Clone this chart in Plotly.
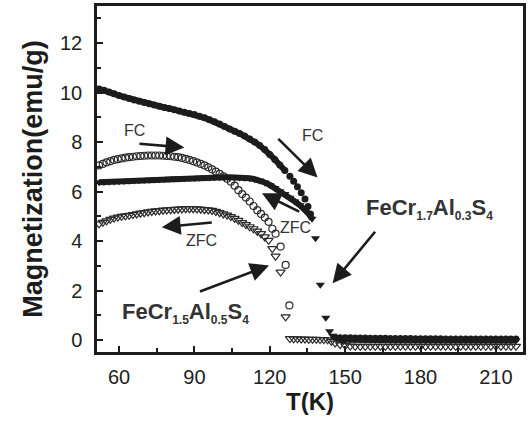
import plotly.graph_objects as go

# ---------------- data ----------------
# FeCr1.7Al0.3S4, FC (filled circles)
fc17_T = [52, 54, 56, 58, 60, 62, 64, 66, 68, 70, 72, 74, 76, 78, 80, 82, 84, 86, 88, 90,
          92, 94, 96, 98, 100, 102, 104, 106, 108, 110, 112, 114, 116, 118, 120, 122, 124, 126,
          128, 129.5, 131, 132.5, 134, 135.2, 136.2,
          146, 148, 150, 152, 154, 156, 158, 160, 162, 164, 166, 168, 170, 172, 174, 176, 178, 180,
          182, 184, 186, 188, 190, 192, 194, 196, 198, 200, 202, 204, 206, 208, 210, 212, 214, 216, 218]
fc17_M = [10.15, 10.1, 10.03, 9.95, 9.88, 9.82, 9.76, 9.7, 9.65, 9.6, 9.55, 9.5, 9.45, 9.4, 9.36, 9.31, 9.26, 9.21, 9.16, 9.12,
          9.05, 8.98, 8.9, 8.82, 8.73, 8.63, 8.53, 8.44, 8.35, 8.25, 8.13, 8.0, 7.86, 7.7, 7.5, 7.3, 7.08, 6.85,
          6.62, 6.42, 6.2, 5.95, 5.7, 5.4, 5.1,
          0.12, 0.1, 0.1, 0.1, 0.09, 0.09, 0.09, 0.08, 0.08, 0.08, 0.08, 0.07, 0.07, 0.07, 0.07, 0.07, 0.06, 0.06,
          0.06, 0.06, 0.06, 0.06, 0.05, 0.05, 0.05, 0.05, 0.05, 0.05, 0.05, 0.05, 0.05, 0.05, 0.05, 0.05, 0.05, 0.05, 0.05]
FC17_DENSE = 38  # number of leading points that form the continuous low-T band

# FeCr1.7Al0.3S4, ZFC (filled down-triangles)
zfc17_T = [52, 54, 56, 58, 60, 62, 64, 66, 68, 70, 72, 74, 76, 78, 80, 82, 84, 86, 88, 90,
           92, 94, 96, 98, 100, 102, 104, 106, 108, 110, 112, 114, 116, 118, 120, 122, 124, 126,
           128, 130, 132, 134, 135.5, 136.8, 138.2, 140.1, 142.3, 143.8, 145, 146.5,
           148, 150, 152, 154, 156, 158, 160, 162, 164, 166, 168, 170, 172, 174, 176, 178, 180,
           182, 184, 186, 188, 190, 192, 194, 196, 198, 200, 202, 204, 206, 208, 210, 212, 214, 216, 218]
zfc17_M = [6.38, 6.39, 6.4, 6.41, 6.42, 6.43, 6.44, 6.45, 6.46, 6.47, 6.48, 6.49, 6.5, 6.51, 6.52, 6.53, 6.53, 6.54, 6.55, 6.55,
           6.56, 6.57, 6.57, 6.58, 6.58, 6.58, 6.58, 6.58, 6.57, 6.56, 6.54, 6.5, 6.45, 6.37, 6.27, 6.15, 6.02, 5.9,
           5.75, 5.6, 5.45, 5.28, 5.1, 4.9, 4.12, 2.24, 0.9, 0.36, 0.18, 0.08,
           0.04, 0.02, 0.02, 0.01, 0.01, 0.0, 0.0, 0.0, 0.0, 0.0, -0.01, -0.01, -0.01, -0.01, -0.01, -0.01, -0.02,
           -0.02, -0.02, -0.02, -0.02, -0.02, -0.02, -0.02, -0.02, -0.02, -0.02, -0.02, -0.02, -0.02, -0.02, -0.02, -0.02, -0.02, -0.02, -0.02]
ZFC17_DENSE = 44
ZFC17_HIGH_T = 49  # index where the flat high-temperature band starts

# FeCr1.5Al0.5S4, FC (open circles)
fc15_T = [52, 53.5, 55, 56.5, 58, 59.5, 61, 62.5, 64, 65.5, 67, 68.5, 70, 71.5, 73, 74.5, 76, 77.5, 79, 80.5,
          82, 83.5, 85, 86.5, 88, 89.5, 91, 92.5, 94, 95.5, 97, 98.5, 100, 101.5, 103, 104.5, 106, 107.5,
          109, 110.5, 112, 113.5, 115, 116.5, 118, 119.5, 121, 122.3, 124.3, 126.3, 127.8]
fc15_M = [7.06, 7.12, 7.18, 7.23, 7.28, 7.31, 7.34, 7.37, 7.39, 7.41, 7.43, 7.44, 7.45, 7.46, 7.46, 7.46, 7.46, 7.45, 7.44, 7.43,
          7.41, 7.39, 7.36, 7.32, 7.28, 7.23, 7.18, 7.12, 7.06, 6.98, 6.9, 6.81, 6.72, 6.62, 6.52, 6.4, 6.24, 6.06,
          5.9, 5.76, 5.6, 5.42, 5.25, 5.1, 4.95, 4.78, 4.5, 4.3, 3.78, 3.04, 1.4]

# FeCr1.5Al0.5S4, ZFC (open down-triangles)
zfc15_T = [52, 53.5, 55, 56.5, 58, 59.5, 61, 62.5, 64, 65.5, 67, 68.5, 70, 71.5, 73, 74.5, 76, 77.5, 79, 80.5,
           82, 83.5, 85, 86.5, 88, 89.5, 91, 92.5, 94, 95.5, 97, 98.5, 100, 101.5, 103, 104.5, 106, 107.5,
           109, 110.5, 112, 113.5, 115, 116.5, 118, 119.5, 121, 122.3, 124.3, 126.3,
           128, 129.5, 131, 132.5, 134, 135.5, 137, 138.5, 140, 141.5, 143, 144.5,
           146, 148, 150, 152, 154, 156, 158, 160, 162, 164, 166, 168, 170, 172, 174, 176, 178, 180,
           182, 184, 186, 188, 190, 192, 194, 196, 198, 200, 202, 204, 206, 208, 210, 212, 214, 216, 218]
zfc15_M = [4.7, 4.76, 4.82, 4.88, 4.93, 4.97, 5.0, 5.02, 5.04, 5.07, 5.1, 5.13, 5.15, 5.18, 5.2, 5.22, 5.23, 5.25, 5.26, 5.27,
           5.28, 5.29, 5.3, 5.31, 5.31, 5.31, 5.3, 5.29, 5.27, 5.26, 5.24, 5.2, 5.15, 5.1, 5.05, 4.99, 4.92, 4.84,
           4.75, 4.67, 4.58, 4.5, 4.4, 4.3, 4.17, 4.03, 3.7, 3.39, 2.75, 0.94,
           0.06, 0.05, 0.05, 0.04, 0.04, 0.03, 0.03, 0.03, 0.02, 0.02, 0.01, -0.05,
           -0.12, -0.18, -0.22, -0.24, -0.25, -0.25, -0.25, -0.25, -0.25, -0.25, -0.25, -0.25, -0.25, -0.25, -0.25, -0.25, -0.25, -0.25,
           -0.25, -0.25, -0.25, -0.25, -0.25, -0.25, -0.25, -0.25, -0.25, -0.25, -0.25, -0.25, -0.25, -0.25, -0.25, -0.25, -0.25, -0.25, -0.25]

x_tick_vals = [60, 90, 120, 150, 180, 210]
y_tick_vals = [0, 2, 4, 6, 8, 10, 12]

INK = "#1c1c1c"
FONT = "Liberation Sans, Arial, sans-serif"

fig = go.Figure()
fig.add_trace(go.Scatter(x=zfc15_T, y=zfc15_M, mode="markers",
                         marker=dict(symbol="triangle-down-open", size=8, color="#2a2a2a", line=dict(width=1.2))))
fig.add_trace(go.Scatter(x=fc15_T, y=fc15_M, mode="markers",
                         marker=dict(symbol="circle-open", size=7, color="#2a2a2a", line=dict(width=1.2))))
# continuous bands under the dense filled markers
fig.add_trace(go.Scatter(x=zfc17_T[:ZFC17_DENSE], y=zfc17_M[:ZFC17_DENSE], mode="lines",
                         line=dict(color=INK, width=6)))
fig.add_trace(go.Scatter(x=zfc17_T[ZFC17_HIGH_T:], y=zfc17_M[ZFC17_HIGH_T:], mode="lines",
                         line=dict(color=INK, width=6)))
fig.add_trace(go.Scatter(x=zfc17_T, y=zfc17_M, mode="markers",
                         marker=dict(symbol="triangle-down", size=8, color=INK)))
fig.add_trace(go.Scatter(x=fc17_T[:FC17_DENSE], y=fc17_M[:FC17_DENSE], mode="lines",
                         line=dict(color=INK, width=6)))
fig.add_trace(go.Scatter(x=fc17_T, y=fc17_M, mode="markers",
                         marker=dict(symbol="circle", size=7, color=INK)))

ann = []
def arrow(x0, y0, x1, y1):
    ann.append(dict(x=x1, y=y1, ax=x0, ay=y0, xref="x", yref="y", axref="x", ayref="y",
                    text="", showarrow=True, arrowhead=2, arrowsize=1.45, arrowwidth=2.6,
                    arrowcolor=INK, standoff=0, startstandoff=0))
def label(x, y, t, size=16, anchor="center"):
    ann.append(dict(x=x, y=y, xref="x", yref="y", text=t, showarrow=False, xanchor=anchor,
                    font=dict(size=size, color="#333333", family=FONT)))

def formula(a, b, c):
    s = "<span style='font-size:12px'>"
    return ("<b>FeCr<sub>" + s + a + "</span></sub>Al<sub>" + s + b + "</span></sub>S<sub>"
            + s + c + "</span></sub></b>")

arrow(67.5, 7.94, 86.0, 7.78)
arrow(122.8, 8.19, 139.0, 6.57)
arrow(132.3, 5.16, 116.9, 5.93)
arrow(97.5, 4.76, 77.0, 4.56)
arrow(91.6, 1.94, 119.7, 3.02)
arrow(162.4, 4.44, 145.0, 2.30)
label(66.3, 8.47, "FC")
label(137.1, 8.27, "FC")
label(130.4, 4.56, "ZFC")
label(92.8, 4.03, "ZFC")
label(60.5, 1.09, formula("1.5", "0.5", "4"), size=22, anchor="left")
label(157.4, 5.3, formula("1.7", "0.3", "4"), size=22, anchor="left")

axis_common = dict(showline=True, linewidth=2.5, linecolor=INK, mirror=True, showgrid=False,
                   zeroline=False, ticks="inside", ticklen=6, tickwidth=2, tickcolor=INK,
                   tickfont=dict(size=20, color="#222222", family=FONT))

fig.update_layout(
    width=529, height=421,
    margin=dict(l=97, r=3, t=5, b=69),
    paper_bgcolor="#ffffff", plot_bgcolor="#ffffff",
    showlegend=False,
    annotations=ann,
    xaxis=dict(range=[51.2, 220.8], tickvals=x_tick_vals, ticklabelstandoff=5,
               minor=dict(ticks="inside", ticklen=4, tickwidth=1.5, tickcolor=INK, dtick=15, tick0=60),
               title=dict(text="<b>T(K)</b>", standoff=0,
                          font=dict(size=24, color=INK, family=FONT)),
               **axis_common),
    yaxis=dict(range=[-0.48, 13.5], tickvals=y_tick_vals, ticklabelstandoff=8,
               minor=dict(ticks="inside", ticklen=4, tickwidth=1.5, tickcolor=INK, dtick=1, tick0=0),
               title=dict(text="<b>Magnetization(emu/g)</b>", standoff=10,
                          font=dict(size=27, color=INK, family=FONT)),
               **axis_common),
)

fig.write_html("out.html", config={"displayModeBar": False})

# remove the browser's default page margin so the figure sits at the window's top-left corner
with open("out.html", "r", encoding="utf-8") as f:
    html = f.read()
html = html.replace("<body>", "<body style=\"margin:0;padding:0;overflow:hidden\">", 1)
with open("out.html", "w", encoding="utf-8") as f:
    f.write(html)
